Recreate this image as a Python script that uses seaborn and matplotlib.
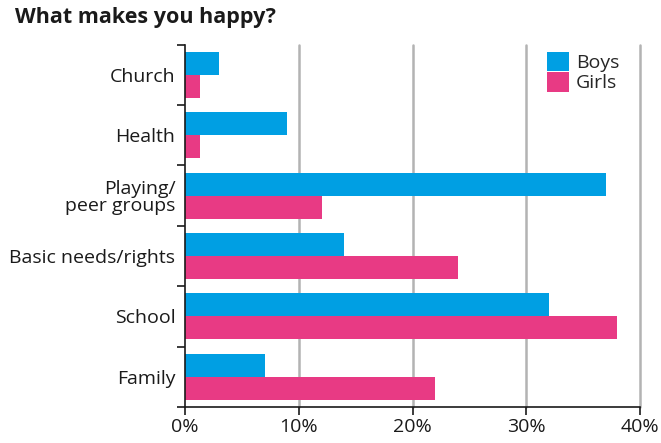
import matplotlib
matplotlib.use("Agg")
import matplotlib.pyplot as plt
import seaborn as sns
import pandas as pd
from matplotlib.patches import Patch
from matplotlib.ticker import FixedLocator, PercentFormatter

categories = ["Church", "Health", "Playing/\npeer groups", "Basic needs/rights", "School", "Family"]
boys = [3, 9, 37, 14, 32, 7]
girls = [1.3, 1.3, 12, 24, 38, 22]
series = ["Boys", "Girls"]
colors = ["#009FE3", "#E83A84"]
xticks = [0, 10, 20, 30, 40]

df = pd.DataFrame({
    "category": categories * 2,
    "value": boys + girls,
    "group": ["Boys"] * len(categories) + ["Girls"] * len(categories),
})

sns.set_theme(style="white")
plt.rcParams["font.family"] = ["Open Sans", "DejaVu Sans"]

fig = plt.figure(figsize=(6.61, 4.43), dpi=100)
ax = fig.add_axes([185 / 661, 36 / 443, 455 / 661, 362.5 / 443])

sns.barplot(data=df, y="category", x="value", hue="group", order=categories,
            hue_order=series, palette=colors, width=0.76, orient="h",
            saturation=1, ax=ax, legend=False, linewidth=0, errorbar=None)

ax.set_xlim(0, 40)
ax.set_ylim(len(categories) - 0.5, -0.5)
ax.set_xlabel("")
ax.set_ylabel("")
ax.xaxis.set_major_locator(FixedLocator(xticks))
ax.xaxis.set_major_formatter(PercentFormatter(decimals=0))
ax.grid(False)
for x in xticks[1:]:
    ax.axvline(x, color="#b3b3b3", lw=1.8, zorder=0, clip_on=False)

for s in ["top", "right"]:
    ax.spines[s].set_visible(False)
for s in ["left", "bottom"]:
    ax.spines[s].set_color("#1a1a1a")
    ax.spines[s].set_linewidth(1.2)

ax.tick_params(axis="x", which="major", length=6, width=1.2, color="#1a1a1a",
               labelsize=14, pad=2, labelcolor="#1a1a1a", bottom=True)
ax.tick_params(axis="y", which="major", length=0, labelsize=14, pad=7, labelcolor="#1a1a1a")
ax.set_yticks([i + 0.5 for i in range(-1, len(categories))], minor=True)
ax.tick_params(axis="y", which="minor", length=6, width=1.2, color="#1a1a1a", left=True)
for lab in ax.get_yticklabels():
    lab.set_linespacing(0.95)

handles = [Patch(facecolor=c, edgecolor="none") for c in colors]
fig.legend(handles, series, loc="upper left", bbox_to_anchor=(547 / 661, 1 - 52 / 443),
           frameon=False, fontsize=14, handlelength=1.15, handleheight=1.15,
           labelspacing=0, borderpad=0, borderaxespad=0, handletextpad=0.35)

fig.text(15 / 661, 1 - 7 / 443, "What makes you happy?", fontsize=15.5, fontweight="bold",
         va="top", ha="left", color="#1a1a1a")

fig.savefig("out.png", dpi=100)
